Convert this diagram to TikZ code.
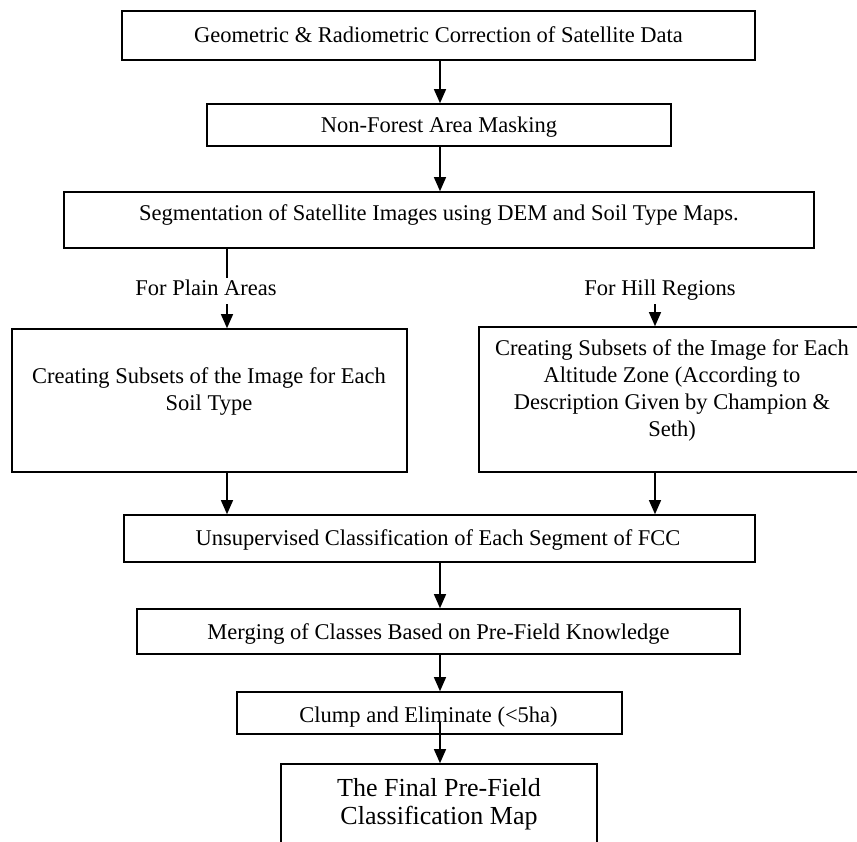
\documentclass[tikz,border=0pt]{standalone}
\usepackage{fontspec}
\setmainfont{Liberation Serif}
\usetikzlibrary{arrows.meta}
\tikzset{
  box/.style={draw, line width=1.6pt, inner sep=0pt},
  txt/.style={align=center, inner sep=0pt, font=\fontsize{22.5}{27}\selectfont},
  bigtxt/.style={align=center, inner sep=0pt, font=\fontsize{26}{28}\selectfont},
  lbl/.style={inner xsep=0pt, inner ysep=3pt, text height=15pt, text depth=5pt, font=\fontsize{22.5}{27}\selectfont},
  conn/.style={line width=1.2pt},
  arr/.style={line width=1.2pt, -{Triangle[length=14pt,width=12pt]}}
}
\begin{document}
\begin{tikzpicture}[x=1pt,y=-1pt]
\useasboundingbox (0,0) rectangle (857,842);
\fill[white] (0,0) rectangle (857,842);
% boxes
\node[box, minimum width=633pt, minimum height=49pt] (b1) at (438.5,35.5) {};
\node[box, minimum width=464pt, minimum height=42pt] (b2) at (439,125) {};
\node[box, minimum width=750pt, minimum height=56pt] (b3) at (439,220) {};
\node[box, minimum width=395pt, minimum height=143pt] (b4) at (209.5,400.5) {};
\node[box, minimum width=386pt, minimum height=145pt] (b5) at (672,399.5) {};
\node[box, minimum width=631pt, minimum height=47pt] (b6) at (439.5,538.5) {};
\node[box, minimum width=603pt, minimum height=45pt] (b7) at (438.5,631.5) {};
\node[box, minimum width=385pt, minimum height=42pt] (b8) at (429.5,713) {};
\node[box, minimum width=316pt, minimum height=90pt] (b9) at (439,809) {};
% texts
\node[txt] (t1) at (438.5,35) {Geometric \& Radiometric Correction of Satellite Data};
\node[txt] (t2) at (439,127) {Non-Forest Area Masking};
\node[txt] (t3) at (439,215) {Segmentation of Satellite Images using DEM and Soil Type Maps.};
\node[txt] (t4) at (209,392) {Creating Subsets of the Image for Each\\Soil Type};
\node[txt] (t5) at (672,390) {Creating Subsets of the Image for Each\\Altitude Zone (According to\\Description Given by Champion \&\\Seth)};
\node[txt] (t6) at (438,540) {Unsupervised Classification of Each Segment of FCC};
\node[txt] (t7) at (438.5,634) {Merging of Classes Based on Pre-Field Knowledge};
\node[txt] (t8) at (428.5,717) {Clump and Eliminate (<5ha)};
\node[bigtxt] (t9) at (439,804) {The Final Pre-Field\\Classification Map};
% labels
\node[lbl] (plain) at (206,291) {For Plain Areas};
\node[lbl] (hill) at (660,291) {For Hill Regions};
% coordinates for connector x positions
\coordinate (cx) at (440,0);
\coordinate (px) at (227,0);
\coordinate (hx) at (655,0);
\coordinate (c8) at (440,722);
% connectors
\draw[arr] (cx |- b1.south) -- (cx |- b2.north);
\draw[arr] (cx |- b2.south) -- (cx |- b3.north);
\draw[conn] (px |- b3.south) -- (px |- plain.north);
\draw[arr] (px |- plain.south) -- (px |- b4.north);
\draw[arr] (hx |- hill.south) -- (hx |- b5.north);
\draw[arr] (px |- b4.south) -- (px |- b6.north);
\draw[arr] (hx |- b5.south) -- (hx |- b6.north);
\draw[arr] (cx |- b6.south) -- (cx |- b7.north);
\draw[arr] (cx |- b7.south) -- (cx |- b8.north);
\draw[arr] (c8) -- (cx |- b9.north);
\end{tikzpicture}
\end{document}
